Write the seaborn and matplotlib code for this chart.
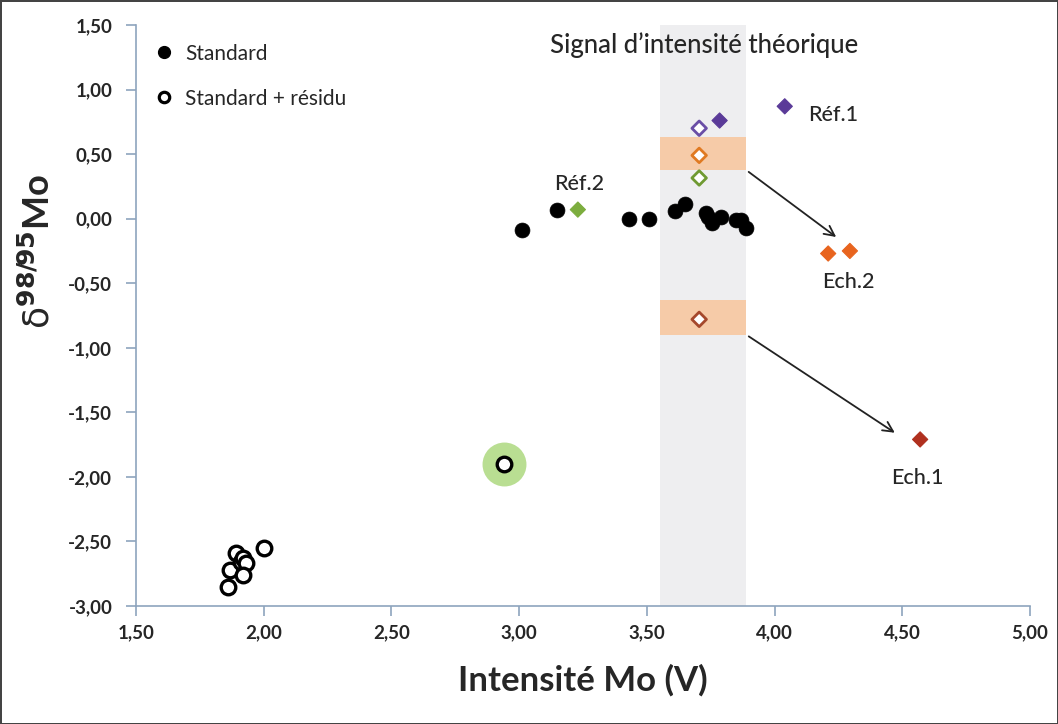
import matplotlib
matplotlib.use("Agg")
import matplotlib.pyplot as plt
import numpy as np
import pandas as pd
import seaborn as sns
from matplotlib.lines import Line2D

# Standard (filled black circles)
std_x = [3.01, 3.15, 3.43, 3.51, 3.61, 3.65, 3.73, 3.74, 3.755, 3.79, 3.85, 3.87, 3.89]
std_y = [-0.09, 0.07, 0.00, 0.00, 0.06, 0.11, 0.04, 0.01, -0.03, 0.01, -0.01, -0.01, -0.07]

# Standard + residu (open circles)
res_x = [1.86, 1.87, 1.89, 1.91, 1.92, 1.93, 1.92, 2.00, 2.94]
res_y = [-2.85, -2.72, -2.59, -2.66, -2.63, -2.67, -2.76, -2.55, -1.90]
halo_x = [2.94]
halo_y = [-1.90]

# Reference / sample diamonds
dia_x = [4.04, 3.785, 3.705, 3.705, 3.705, 3.23, 4.21, 4.295, 3.705, 4.57]
dia_y = [0.87, 0.76, 0.70, 0.49, 0.315, 0.07, -0.27, -0.25, -0.78, -1.71]
dia_col = ["#5a3a98", "#5a3a98", "#6a4ea6", "#e07a22", "#6f9a32",
           "#7cad3e", "#e8641e", "#e8641e", "#a5482c", "#b0301f"]
dia_filled = [True, True, False, False, False, True, True, True, False, True]

# theoretical signal band and sample bands
band_x = (3.55, 3.89)
ech2_band = (0.375, 0.63)
ech1_band = (-0.90, -0.63)

xticks = [1.5, 2.0, 2.5, 3.0, 3.5, 4.0, 4.5, 5.0]
yticks = [1.5, 1.0, 0.5, 0.0, -0.5, -1.0, -1.5, -2.0, -2.5, -3.0]

sns.set_style("white")
plt.rcParams["font.family"] = ["Lato", "DejaVu Sans"]

fig = plt.figure(figsize=(10.58, 7.24), dpi=100, edgecolor="#444444", linewidth=2)
ax = fig.add_axes([0.1285, 0.163, 0.845, 0.8025])

axis_col = "#8ea4bd"
txt_col = "#262626"

ax.axvspan(band_x[0], band_x[1], color="#eeeef0", zorder=0, lw=0)
for lo, hi in (ech2_band, ech1_band):
    ax.fill_between(band_x, lo, hi, color="#f6cba8", lw=0, zorder=1)

ax.scatter(halo_x, halo_y, s=1000, color="#b9de92", lw=0, zorder=2)

std = pd.DataFrame({"x": std_x, "y": std_y})
res = pd.DataFrame({"x": res_x, "y": res_y})
sns.scatterplot(data=std, x="x", y="y", ax=ax, color="black", s=115,
                edgecolor="black", linewidth=0.5, zorder=4)
sns.scatterplot(data=res, x="x", y="y", ax=ax, facecolor="white", s=110,
                edgecolor="black", linewidth=2.4, zorder=4)

dia = pd.DataFrame({"x": dia_x, "y": dia_y, "c": dia_col, "f": dia_filled})
for filled, grp in dia.groupby("f"):
    if filled:
        sns.scatterplot(data=grp, x="x", y="y", ax=ax, marker="D", s=60,
                        c=grp["c"].tolist(), edgecolor=grp["c"].tolist(),
                        linewidth=0.8, zorder=5)
    else:
        sns.scatterplot(data=grp, x="x", y="y", ax=ax, marker="D", s=55,
                        facecolor="white", edgecolor=grp["c"].tolist(),
                        linewidth=2.0, zorder=5)

arrow = dict(arrowstyle="->", color="#222222", lw=1.3, mutation_scale=18)
ax.annotate("", xy=(4.25, -0.155), xytext=(band_x[1], ech2_band[0]),
            arrowprops=arrow, zorder=3)
ax.annotate("", xy=(4.48, -1.67), xytext=(band_x[1], ech1_band[0]),
            arrowprops=arrow, zorder=3)

lab = dict(fontsize=15.5, color=txt_col, fontweight="medium")
ax.text(4.13, 0.80, "Réf.1", ha="left", va="center", **lab)
ax.text(3.234, 0.27, "Réf.2", ha="center", va="center", **lab)
ax.text(4.29, -0.49, "Ech.2", ha="center", va="center", **lab)
ax.text(4.56, -2.01, "Ech.1", ha="center", va="center", **lab)
ax.text(3.725, 1.345, "Signal d\u2019intensité théorique", ha="center",
        va="center", fontsize=18.5, color=txt_col, fontweight="medium")

ax.set_xlim(1.5, 5.0)
ax.set_ylim(-3.0, 1.5)
ax.set_xticks(xticks)
ax.set_yticks(yticks)
ax.set_xticklabels([f"{v:.2f}".replace(".", ",") for v in xticks])
ax.set_yticklabels([f"{v:.2f}".replace(".", ",") for v in yticks])
ax.tick_params(axis="both", labelsize=13.5, colors=axis_col, labelcolor=txt_col,
               length=7, width=1.2, direction="out", left=True, bottom=True, pad=6)
ax.tick_params(axis="y", pad=10)
for lbl in ax.get_xticklabels() + ax.get_yticklabels():
    lbl.set_fontweight("bold")
for side in ("top", "right"):
    ax.spines[side].set_visible(False)
for side in ("left", "bottom"):
    ax.spines[side].set_color(axis_col)
    ax.spines[side].set_linewidth(1.2)

ax.set_xlabel("Intensité Mo (V)", fontsize=25, fontweight="bold", color=txt_col)
ax.xaxis.set_label_coords(0.5, -0.10)
ax.set_ylabel(r"$\mathrm{\delta}^{\mathbf{98/95}}$Mo", fontsize=26, fontweight="bold",
              color=txt_col)
ax.yaxis.set_label_coords(-0.09, 0.61)

handles = [
    Line2D([], [], ls="", marker="o", ms=8.5, color="black", label="Standard"),
    Line2D([], [], ls="", marker="o", ms=7.5, mfc="white", mec="black", mew=2.3,
           label="Standard + résidu"),
]
ax.legend(handles=handles, loc="upper left", bbox_to_anchor=(-0.008, 1.0),
          frameon=False, fontsize=15, handletextpad=0.2, labelspacing=1.2,
          handlelength=1.6, labelcolor=txt_col)

fig.savefig("out.png", dpi=100, edgecolor=fig.get_edgecolor())
